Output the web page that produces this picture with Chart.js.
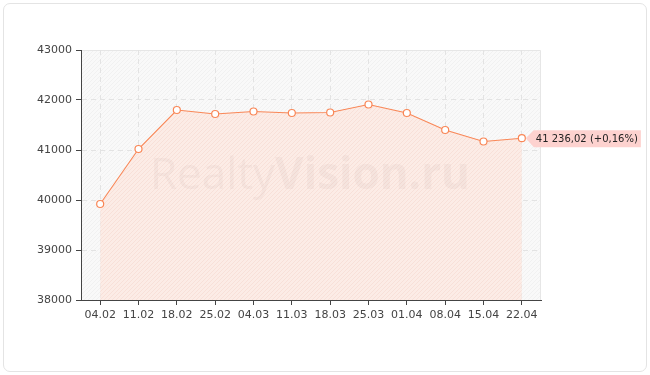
<!DOCTYPE html>
<html>
<head>
<meta charset="utf-8">
<script src="https://cdn.jsdelivr.net/npm/chart.js@4/dist/chart.umd.min.js"></script>
<style>
  body { margin: 0; background: #fff; }
  .card { position: absolute; left: 3px; top: 3px; width: 642px; height: 367px;
          border: 1px solid #e4e4e4; border-radius: 7px; }
  .wrap { position: absolute; left: 0; top: 0; width: 650px; height: 375px; }
</style>
</head>
<body>
<div class="card"></div>
<div class="wrap"><canvas id="myChart" width="650" height="375"></canvas></div>
<script>
const labels = ["04.02", "11.02", "18.02", "25.02", "04.03", "11.03", "18.03", "25.03", "01.04", "08.04", "15.04", "22.04"];
const prices = [39920, 41020, 41800, 41720, 41770, 41740, 41750, 41910, 41740, 41400, 41170, 41236.02];
const yTicks = [38000, 39000, 40000, 41000, 42000, 43000];
const lastLabel = "41 236,02 (+0,16%)";

// diagonal hatch patterns
function hatch(bg, line) {
  const c = document.createElement("canvas");
  c.width = 4; c.height = 4;
  const g = c.getContext("2d");
  g.fillStyle = bg;
  g.fillRect(0, 0, 4, 4);
  g.strokeStyle = line;
  g.lineWidth = 1;
  g.beginPath();
  g.moveTo(0, 4); g.lineTo(4, 0);
  g.moveTo(-1, 1); g.lineTo(1, -1);
  g.moveTo(3, 5); g.lineTo(5, 3);
  g.stroke();
  return c;
}

const ctx = document.getElementById("myChart").getContext("2d");
const plotBg = ctx.createPattern(hatch("#f9f9f9", "#f1f1f1"), "repeat");
const areaBg = ctx.createPattern(hatch("#fcece6", "#f8e0d8"), "repeat");

const backdrop = {
  id: "backdrop",
  beforeDraw(chart) {
    const a = chart.chartArea;
    const c = chart.ctx;
    c.save();
    c.fillStyle = plotBg;
    c.fillRect(a.left, a.top, a.right - a.left, a.bottom - a.top);
    c.strokeStyle = "#e6e6e6";
    c.lineWidth = 1;
    c.beginPath();
    c.moveTo(a.left, a.top + 0.5);
    c.lineTo(a.right - 0.5, a.top + 0.5);
    c.lineTo(a.right - 0.5, a.bottom);
    c.stroke();
    c.restore();
  },
  afterDatasetsDraw(chart) {
    const c = chart.ctx;
    c.save();
    c.fillStyle = "rgba(120,80,70,0.05)";
    c.textBaseline = "middle";
    c.font = "44px 'Open Sans'";
    const w1 = c.measureText("Realty").width;
    c.font = "bold 44px 'Open Sans'";
    const w2 = c.measureText("Vision.ru").width;
    const x0 = 310 - (w1 + w2) / 2;
    c.font = "44px 'Open Sans'";
    c.fillText("Realty", x0, 176);
    c.font = "bold 44px 'Open Sans'";
    c.fillText("Vision.ru", x0 + w1, 176);
    c.restore();
  },
  afterDraw(chart) {
    const meta = chart.getDatasetMeta(0);
    const p = meta.data[meta.data.length - 1];
    const c = chart.ctx;
    c.save();
    c.font = "10px 'DejaVu Sans'";
    const tw = c.measureText(lastLabel).width;
    const x = p.x + 4, y = p.y;
    c.fillStyle = "#fdd2cf";
    c.beginPath();
    c.moveTo(x, y);
    c.lineTo(x + 8, y - 8);
    c.lineTo(x + 13 + tw, y - 8);
    c.lineTo(x + 13 + tw, y + 9);
    c.lineTo(x + 8, y + 9);
    c.closePath();
    c.fill();
    c.fillStyle = "#222";
    c.textBaseline = "middle";
    c.fillText(lastLabel, x + 10, y + 1);
    c.restore();
  }
};

new Chart(ctx, {
  type: "line",
  data: {
    labels: labels,
    datasets: [{
      data: prices,
      borderColor: "#f98757",
      borderWidth: 1.1,
      backgroundColor: areaBg,
      fill: "start",
      tension: 0,
      pointRadius: 3.5,
      pointBorderWidth: 1.2,
      pointBackgroundColor: "#fff",
      pointBorderColor: "#f98757"
    }]
  },
  options: {
    responsive: false,
    animation: false,
    layout: { padding: { left: 0, right: 109, top: 50, bottom: 47 } },
    plugins: { legend: { display: false }, tooltip: { enabled: false } },
    scales: {
      x: {
        offset: true,
        grid: { color: "#e3e3e3", tickColor: "#444", tickLength: 5, offset: false },
        border: { color: "#444", dash: [5, 4] },
        ticks: { color: "#444", font: { family: "'DejaVu Sans'", size: 11 }, padding: 4, maxRotation: 0 },
        afterFit(s) { s.height = 28; }
      },
      y: {
        min: 38000,
        max: 43000,
        afterBuildTicks(s) { s.ticks = yTicks.map(v => ({ value: v })); },
        grid: { color: ctx2 => ctx2.tick && ctx2.tick.value === 43000 ? "rgba(0,0,0,0)" : "#e3e3e3", tickColor: "#444", tickLength: 5 },
        border: { color: "#444", dash: [5, 4] },
        ticks: { color: "#444", font: { family: "'DejaVu Sans'", size: 11 }, padding: 4, callback: v => String(v) },
        afterFit(s) { s.width = 81; }
      }
    }
  },
  plugins: [backdrop]
});
</script>
</body>
</html>
